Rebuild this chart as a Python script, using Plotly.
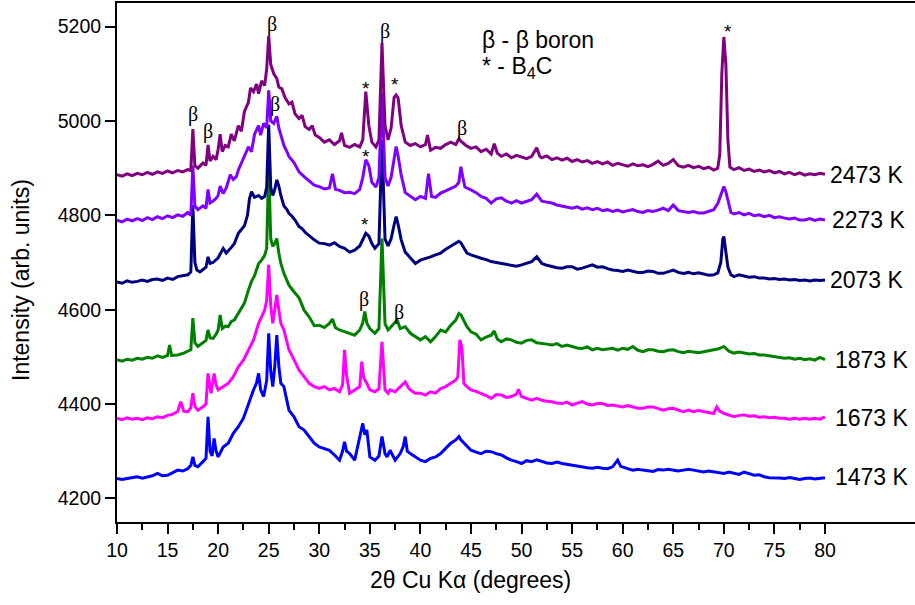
import plotly.graph_objects as go

# ---------------- data (2theta in degrees, intensity in arb. units) ----------------
pts_2473 = [(10,4886),(10.5,4883),(11,4888),(11.5,4884),(12,4889),(12.5,4886),(13,4891),(13.5,4887),(14,4892),(14.5,4889),(15,4894),(15.5,4890),(16,4895),(16.5,4892),(17,4897),(17.3,4895),(17.5,4983),(17.7,4905),(18,4900),(18.5,4911),(18.8,4906),(19,4949),(19.2,4915),(19.5,4925),(19.8,4918),(20,4940),(20.2,4972),(20.4,4935),(20.7,4948),(21,4945),(21.3,4972),(21.6,4958),(22,4990),(22.3,4978),(22.6,5020),(23,5040),(23.2,5070),(23.5,5062),(23.8,5078),(24,5058),(24.3,5085),(24.6,5075),(24.8,5110),(25,5180),(25.2,5120),(25.5,5100),(25.8,5090),(26,5072),(26.3,5068),(26.6,5050),(27,5036),(27.3,5040),(27.6,5015),(28,5005),(28.3,5012),(28.6,4988),(29,4982),(29.3,4990),(29.6,4970),(30,4965),(30.5,4955),(31,4960),(31.5,4950),(32,4958),(32.2,4975),(32.5,4948),(33,4944),(33.5,4950),(34,4945),(34.3,4960),(34.6,5062),(34.9,4990),(35.2,4955),(35.6,4945),(35.9,4960),(36.2,5165),(36.5,4990),(36.8,4960),(37.1,4985),(37.4,5050),(37.6,5055),(37.8,5048),(38.1,4990),(38.5,4955),(39,4948),(39.5,4952),(40,4945),(40.5,4950),(40.7,4970),(41,4938),(41.5,4944),(42,4942),(42.5,4950),(43,4955),(43.5,4950),(43.8,4962),(44,4957),(44.5,4948),(45,4942),(45.5,4945),(46,4935),(46.5,4940),(47,4930),(47.3,4952),(47.6,4932),(48,4925),(48.5,4930),(49,4922),(49.5,4927),(50,4924),(50.5,4920),(51,4925),(51.5,4943),(51.8,4925),(52,4922),(52.5,4926),(53,4918),(53.5,4922),(54,4917),(54.5,4921),(55,4914),(55.5,4918),(56,4913),(56.5,4916),(57,4910),(57.5,4914),(58,4909),(58.5,4913),(59,4906),(59.5,4910),(60,4907),(60.5,4904),(61,4909),(61.5,4905),(62,4907),(62.5,4903),(63,4908),(63.5,4915),(64,4906),(64.5,4910),(65,4918),(65.5,4905),(66,4902),(66.5,4906),(67,4901),(67.5,4904),(68,4899),(68.5,4902),(69,4896),(69.4,4900),(69.6,4930),(69.8,5100),(70,5178),(70.2,5120),(70.4,4960),(70.6,4902),(71,4897),(71.5,4901),(72,4895),(72.5,4898),(73,4893),(73.5,4896),(74,4892),(74.5,4895),(75,4890),(75.5,4893),(76,4888),(76.5,4891),(77,4886),(77.5,4890),(78,4885),(78.5,4888),(79,4886),(79.5,4889),(80,4887)]

pts_2273 = [(10,4790),(10.5,4786),(11,4792),(11.5,4788),(12,4793),(12.5,4789),(13,4795),(13.5,4791),(14,4797),(14.5,4793),(15,4799),(15.5,4795),(16,4801),(16.5,4798),(17,4806),(17.3,4800),(17.5,4905),(17.7,4820),(18,4812),(18.5,4820),(18.8,4815),(19,4855),(19.2,4826),(19.5,4830),(19.8,4836),(20,4842),(20.2,4862),(20.5,4846),(20.8,4858),(21,4870),(21.2,4886),(21.5,4876),(21.8,4882),(22,4896),(22.3,4910),(22.6,4925),(23,4945),(23.3,4935),(23.6,4972),(24,4990),(24.2,4970),(24.5,4995),(24.8,4985),(25,5065),(25.2,5000),(25.5,4995),(25.8,5010),(26,4985),(26.2,4972),(26.5,4948),(26.8,4935),(27,4925),(27.5,4912),(28,4892),(28.5,4882),(29,4872),(29.5,4864),(30,4861),(30.5,4856),(31,4858),(31.3,4888),(31.6,4855),(32,4853),(32.5,4848),(33,4849),(33.5,4846),(34,4855),(34.3,4880),(34.6,4918),(34.9,4905),(35.2,4870),(35.6,4860),(35.9,4880),(36.2,5060),(36.5,4880),(36.8,4862),(37.1,4880),(37.4,4920),(37.6,4946),(37.8,4925),(38.1,4885),(38.5,4848),(39,4840),(39.5,4833),(40,4840),(40.5,4836),(40.8,4888),(41.1,4840),(41.5,4838),(42,4847),(42.5,4852),(43,4857),(43.5,4862),(43.8,4870),(44,4903),(44.2,4880),(44.4,4860),(45,4854),(45.5,4848),(46,4840),(46.5,4836),(47,4826),(47.5,4835),(48,4837),(48.5,4830),(49,4826),(49.5,4831),(50,4826),(50.5,4830),(51,4833),(51.5,4845),(52,4830),(52.5,4828),(53,4826),(53.5,4822),(54,4820),(54.5,4818),(55,4815),(55.5,4818),(56,4813),(56.5,4816),(57,4812),(57.5,4815),(58,4810),(58.5,4812),(59,4808),(59.5,4811),(60,4807),(60.5,4810),(61,4812),(61.5,4808),(62,4806),(62.5,4810),(63,4808),(63.5,4811),(64,4815),(64.5,4810),(65,4822),(65.5,4810),(66,4808),(66.5,4806),(67,4808),(67.5,4805),(68,4805),(68.5,4808),(69,4812),(69.4,4825),(69.7,4845),(70,4861),(70.2,4850),(70.4,4830),(70.7,4806),(71,4803),(71.5,4806),(72,4801),(72.5,4804),(73,4799),(73.5,4801),(74,4797),(74.5,4800),(75,4795),(75.5,4797),(76,4794),(76.5,4792),(77,4794),(77.5,4790),(78,4790),(78.5,4793),(79,4789),(79.5,4792),(80,4790)]

pts_2073 = [(10,4659),(10.5,4656),(11,4661),(11.5,4658),(12,4660),(12.5,4663),(13,4660),(13.5,4664),(14,4665),(14.5,4662),(15,4667),(15.5,4664),(16,4670),(16.5,4672),(17,4674),(17.3,4680),(17.5,4822),(17.7,4700),(17.9,4684),(18.2,4680),(18.5,4686),(18.8,4690),(19,4712),(19.2,4698),(19.5,4700),(19.8,4706),(20,4710),(20.3,4722),(20.5,4730),(20.8,4720),(21,4724),(21.3,4732),(21.6,4740),(22,4762),(22.3,4770),(22.6,4778),(22.9,4800),(23.1,4835),(23.3,4850),(23.6,4838),(24,4842),(24.3,4836),(24.6,4840),(24.8,4860),(25,4992),(25.2,4860),(25.4,4842),(25.6,4855),(25.8,4875),(26,4862),(26.2,4842),(26.5,4820),(26.8,4812),(27,4804),(27.3,4798),(27.6,4790),(28,4776),(28.3,4772),(28.6,4764),(29,4756),(29.5,4748),(30,4741),(30.5,4740),(31,4737),(31.5,4742),(32,4734),(32.5,4730),(33,4722),(33.5,4726),(34,4735),(34.3,4750),(34.6,4762),(34.9,4756),(35.2,4740),(35.5,4730),(35.9,4740),(36.2,4960),(36.5,4750),(36.8,4735),(37.1,4750),(37.4,4780),(37.6,4797),(37.8,4780),(38.1,4748),(38.5,4722),(39,4710),(39.5,4698),(40,4705),(40.5,4708),(41,4712),(41.5,4716),(42,4720),(42.5,4728),(43,4734),(43.5,4740),(43.8,4745),(44,4742),(44.3,4730),(44.6,4720),(45,4716),(45.5,4712),(46,4709),(46.5,4706),(47,4702),(47.5,4700),(48,4698),(48.5,4696),(49,4695),(49.5,4692),(50,4695),(50.5,4698),(51,4702),(51.5,4712),(51.8,4702),(52,4698),(52.5,4694),(53,4691),(53.5,4689),(54,4688),(54.5,4691),(55,4691),(55.5,4686),(56,4688),(56.5,4692),(57,4695),(57.5,4690),(58,4691),(58.5,4687),(59,4684),(59.5,4683),(60,4681),(60.5,4684),(61,4681),(61.5,4679),(62,4679),(62.5,4682),(63,4681),(63.5,4677),(64,4677),(64.5,4680),(65,4684),(65.5,4679),(66,4677),(66.5,4679),(67,4676),(67.5,4678),(68,4676),(68.5,4673),(69,4674),(69.4,4678),(69.7,4700),(69.9,4750),(70,4755),(70.2,4720),(70.4,4690),(70.7,4674),(71,4670),(71.5,4674),(72,4672),(72.5,4669),(73,4670),(73.5,4667),(74,4667),(74.5,4665),(75,4666),(75.5,4664),(76,4665),(76.5,4663),(77,4664),(77.5,4662),(78,4663),(78.5,4661),(79,4663),(79.5,4662),(80,4663)]

pts_1873 = [(10,4494),(10.5,4491),(11,4495),(11.5,4493),(12,4497),(12.5,4495),(13,4499),(13.5,4497),(14,4502),(14.5,4499),(15,4503),(15.2,4525),(15.4,4503),(16,4504),(16.5,4507),(17,4511),(17.3,4515),(17.5,4582),(17.7,4530),(18,4522),(18.5,4529),(18.8,4535),(19,4557),(19.2,4540),(19.5,4539),(19.8,4548),(20,4557),(20.2,4589),(20.4,4560),(20.7,4565),(21,4564),(21.3,4575),(21.6,4578),(22,4592),(22.3,4605),(22.6,4614),(23,4642),(23.3,4660),(23.6,4672),(24,4698),(24.3,4705),(24.6,4715),(24.8,4730),(25,4905),(25.2,4750),(25.4,4734),(25.6,4740),(25.8,4751),(26,4720),(26.2,4698),(26.5,4677),(26.8,4660),(27,4652),(27.5,4638),(28,4625),(28.5,4599),(29,4585),(29.5,4566),(30,4567),(30.5,4562),(31,4571),(31.3,4580),(31.6,4562),(32,4557),(32.5,4553),(33,4550),(33.5,4546),(34,4557),(34.3,4572),(34.5,4596),(34.7,4572),(35,4560),(35.5,4550),(35.9,4560),(36.2,4751),(36.5,4570),(36.8,4557),(37.1,4564),(37.4,4570),(37.7,4578),(38,4560),(38.5,4564),(39,4550),(39.5,4543),(40,4536),(40.5,4543),(41,4532),(41.5,4543),(42,4557),(42.5,4553),(43,4567),(43.5,4578),(43.8,4592),(44,4589),(44.3,4575),(44.6,4564),(45,4553),(45.5,4548),(46,4536),(46.5,4542),(47,4546),(47.3,4555),(47.6,4538),(48,4532),(48.5,4538),(49,4536),(49.5,4531),(50,4529),(50.5,4535),(51,4536),(51.5,4530),(52,4529),(52.5,4527),(53,4525),(53.5,4528),(54,4522),(54.5,4525),(55,4522),(55.5,4519),(56,4518),(56.5,4521),(57,4515),(57.5,4518),(58,4515),(58.5,4517),(59,4518),(59.5,4514),(60,4518),(60.5,4516),(61,4522),(61.5,4514),(62,4511),(62.5,4515),(63,4515),(63.5,4512),(64,4511),(64.5,4514),(65,4515),(65.5,4511),(66,4509),(66.5,4512),(67,4511),(67.5,4509),(68,4511),(68.5,4513),(69,4515),(69.5,4517),(70,4522),(70.5,4512),(71,4508),(71.5,4510),(72,4508),(72.5,4506),(73,4507),(73.5,4504),(74,4504),(74.5,4502),(75,4501),(75.5,4499),(76,4497),(76.5,4498),(77,4495),(77.5,4497),(78,4494),(78.5,4496),(79,4493),(79.5,4499),(80,4494)]

pts_1673 = [(10,4370),(10.5,4367),(11,4371),(11.5,4368),(12,4370),(12.5,4367),(13,4371),(13.5,4369),(14,4373),(14.5,4371),(15,4376),(15.5,4378),(16,4384),(16.3,4405),(16.6,4385),(17,4384),(17.3,4392),(17.5,4423),(17.7,4395),(18,4387),(18.5,4394),(18.8,4400),(19,4465),(19.3,4423),(19.6,4465),(19.8,4440),(20,4430),(20.5,4437),(21,4444),(21.5,4458),(22,4479),(22.5,4493),(23,4515),(23.5,4536),(24,4571),(24.3,4585),(24.6,4599),(24.8,4620),(25,4695),(25.2,4610),(25.4,4571),(25.6,4600),(25.8,4631),(26,4600),(26.2,4571),(26.5,4557),(26.8,4535),(27,4515),(27.5,4494),(28,4472),(28.5,4458),(29,4444),(29.5,4437),(30,4433),(30.5,4437),(31,4430),(31.5,4433),(32,4426),(32.3,4440),(32.5,4515),(32.7,4460),(33,4423),(33.5,4430),(34,4437),(34.2,4490),(34.4,4455),(34.7,4444),(35,4430),(35.5,4426),(35.9,4432),(36.2,4532),(36.5,4430),(36.8,4423),(37,4430),(37.5,4426),(38,4437),(38.5,4447),(38.8,4435),(39,4430),(39.5,4423),(40,4423),(40.5,4419),(41,4426),(41.5,4423),(42,4433),(42.5,4437),(43,4444),(43.5,4451),(43.7,4458),(43.9,4536),(44.1,4520),(44.3,4444),(44.6,4437),(45,4430),(45.5,4427),(46,4423),(46.5,4418),(47,4412),(47.5,4420),(48,4419),(48.5,4414),(49,4416),(49.5,4421),(49.7,4431),(50,4416),(50.5,4412),(51,4408),(51.5,4412),(52,4408),(52.5,4406),(53,4405),(53.5,4402),(54,4401),(54.5,4404),(55,4398),(55.5,4402),(56,4405),(56.5,4400),(57,4398),(57.5,4401),(58,4401),(58.5,4397),(59,4398),(59.5,4396),(60,4394),(60.5,4397),(61,4394),(61.5,4391),(62,4391),(62.5,4394),(63,4394),(63.5,4390),(64,4387),(64.5,4390),(65,4391),(65.5,4387),(66,4384),(66.5,4387),(67,4384),(67.5,4386),(68,4384),(68.5,4382),(69,4380),(69.3,4394),(69.6,4385),(70,4380),(70.5,4376),(71,4373),(71.5,4376),(72,4377),(72.5,4374),(73,4375),(73.5,4372),(74,4373),(74.5,4371),(75,4372),(75.5,4370),(76,4370),(76.5,4368),(77,4370),(77.5,4368),(78,4370),(78.5,4368),(79,4370),(79.5,4368),(80,4373)]

pts_1473 = [(10,4242),(10.5,4240),(11,4242),(11.5,4244),(12,4246),(12.5,4243),(13,4246),(13.5,4248),(14,4253),(14.5,4248),(15,4249),(15.5,4254),(16,4260),(16.5,4258),(17,4263),(17.3,4270),(17.5,4288),(17.7,4270),(18,4267),(18.5,4278),(18.8,4285),(19,4373),(19.2,4300),(19.4,4290),(19.6,4327),(19.8,4300),(20,4288),(20.5,4309),(21,4317),(21.5,4338),(22,4352),(22.5,4370),(23,4401),(23.5,4430),(23.8,4445),(24,4465),(24.2,4430),(24.5,4416),(24.8,4450),(25,4550),(25.2,4470),(25.4,4437),(25.6,4480),(25.8,4546),(26,4480),(26.2,4444),(26.5,4437),(26.8,4410),(27,4387),(27.5,4373),(28,4352),(28.5,4345),(29,4331),(29.5,4317),(30,4309),(30.5,4306),(31,4302),(31.5,4292),(32,4281),(32.3,4300),(32.5,4320),(32.7,4300),(33,4295),(33.5,4281),(34,4331),(34.3,4359),(34.5,4335),(34.7,4345),(35,4288),(35.5,4281),(35.9,4290),(36.2,4331),(36.5,4295),(36.7,4288),(37,4302),(37.5,4281),(38,4295),(38.3,4310),(38.5,4331),(38.7,4300),(39,4295),(39.5,4288),(40,4281),(40.5,4278),(41,4285),(41.5,4288),(42,4295),(42.5,4306),(43,4317),(43.5,4324),(43.8,4331),(44,4324),(44.5,4313),(45,4302),(45.5,4298),(46,4295),(46.5,4300),(47,4299),(47.5,4295),(48,4292),(48.5,4286),(49,4281),(49.5,4278),(50,4274),(50.5,4280),(51,4278),(51.5,4282),(52,4278),(52.5,4275),(53,4274),(53.5,4277),(54,4274),(54.5,4272),(55,4271),(55.5,4269),(56,4267),(56.5,4265),(57,4264),(57.5,4266),(58,4264),(58.5,4263),(59,4267),(59.5,4281),(59.8,4268),(60,4267),(60.5,4263),(61,4260),(61.5,4262),(62,4260),(62.5,4258),(63,4257),(63.5,4261),(64,4260),(64.5,4262),(65,4260),(65.5,4258),(66,4260),(66.5,4262),(67,4260),(67.5,4258),(68,4256),(68.5,4258),(69,4256),(69.5,4254),(70,4253),(70.5,4256),(71,4253),(71.5,4251),(72,4256),(72.5,4252),(73,4249),(73.5,4250),(74,4246),(74.5,4244),(75,4244),(75.5,4243),(76,4242),(76.5,4244),(77,4242),(77.5,4240),(78,4242),(78.5,4243),(79,4241),(79.5,4243),(80,4244)]

series_names = ["1473 K", "1673 K", "1873 K", "2073 K", "2273 K", "2473 K"]
series_pts = [pts_1473, pts_1673, pts_1873, pts_2073, pts_2273, pts_2473]
series_colors = ["#0000FF", "#FF00FF", "#008000", "#000080", "#8000FF", "#800080"]

x_ticks = [10, 15, 20, 25, 30, 35, 40, 45, 50, 55, 60, 65, 70, 75, 80]
x_minor = [12.5, 17.5, 22.5, 27.5, 32.5, 37.5, 42.5, 47.5, 52.5, 57.5, 62.5, 67.5, 72.5, 77.5]
y_ticks = [4200, 4400, 4600, 4800, 5000, 5200]

# peak markers: (2theta, intensity, symbol)
peak_marks = [(17.5, 5013, "β"), (19.0, 4977, "β"), (25.33, 5204, "β"), (25.62, 5034, "β"),
              (36.5, 5189, "β"), (44.1, 4985, "β"), (34.42, 4621, "β"), (37.88, 4595, "β"),
              (34.62, 5068, "*"), (37.49, 5077, "*"), (34.62, 4924, "*"), (34.52, 4780, "*"),
              (70.4, 5189, "*")]

# end-of-trace labels (paper coordinates)
end_label_y = {"2473 K": 0.6686, "2273 K": 0.5819, "2073 K": 0.4663,
               "1873 K": 0.3121, "1673 K": 0.2004, "1473 K": 0.0867}
end_label_x = {"2473 K": 0.891, "2273 K": 0.8935, "2073 K": 0.891,
               "1873 K": 0.8972, "1673 K": 0.8972, "1473 K": 0.8972}

SANS = "Liberation Sans, Arial, sans-serif"
SERIF = "Liberation Serif, Times New Roman, serif"

fig = go.Figure()
for name, pts, col in zip(series_names, series_pts, series_colors):
    fig.add_trace(go.Scatter(
        x=[p[0] for p in pts], y=[p[1] for p in pts], mode="lines", name=name,
        line=dict(color=col, width=3), hoverinfo="skip", showlegend=False))

annotations = []
for xv, yv, sym in peak_marks:
    if sym == "β":
        annotations.append(dict(x=xv, y=yv, xref="x", yref="y", text="β", showarrow=False,
                                font=dict(family=SERIF, size=20, color="black"),
                                xanchor="center", yanchor="middle"))
    else:
        annotations.append(dict(x=xv, y=yv, xref="x", yref="y", text="*", showarrow=False,
                                font=dict(family=SANS, size=19, color="black"),
                                xanchor="center", yanchor="middle"))

for name in series_names:
    annotations.append(dict(x=end_label_x[name], y=end_label_y[name], xref="paper", yref="paper",
                            text=name, showarrow=False, xanchor="left", yanchor="middle",
                            font=dict(family=SANS, size=23, color="black")))

annotations.append(dict(x=0.4549, y=0.9287, xref="paper", yref="paper",
                        text="β - β boron", showarrow=False,
                        xanchor="left", yanchor="middle",
                        font=dict(family=SANS, size=23, color="black")))
annotations.append(dict(x=0.4549, y=0.8748, xref="paper", yref="paper",
                        text="* - B<sub>4</sub>C", showarrow=False,
                        xanchor="left", yanchor="middle",
                        font=dict(family=SANS, size=23, color="black")))

# axis titles
annotations.append(dict(x=0.4436, y=-0.1118, xref="paper", yref="paper",
                        text="2θ Cu Kα (degrees)",
                        showarrow=False, xanchor="center", yanchor="middle",
                        font=dict(family=SANS, size=23, color="black")))
annotations.append(dict(x=-0.1203, y=0.4663, xref="paper", yref="paper",
                        text="Intensity (arb. units)", textangle=-90,
                        showarrow=False, xanchor="center", yanchor="middle",
                        font=dict(family=SANS, size=23, color="black")))

fig.update_layout(
    width=915, height=605,
    margin=dict(l=117, r=0, t=3, b=83),
    paper_bgcolor="white", plot_bgcolor="white",
    annotations=annotations,
    xaxis=dict(range=[10, 88.9], tickmode="array", tickvals=x_ticks,
               ticktext=[str(v) for v in x_ticks],
               showgrid=False, zeroline=False, showline=True, linecolor="black", linewidth=2,
               mirror=True, ticks="outside", ticklen=10, tickwidth=2, tickcolor="black",
               minor=dict(tickmode="array", tickvals=x_minor, ticks="outside", ticklen=6,
                          tickwidth=2, tickcolor="black", showgrid=False),
               tickfont=dict(family=SANS, size=19.5, color="black")),
    yaxis=dict(range=[4150, 5250], tickmode="array", tickvals=y_ticks,
               showgrid=False, zeroline=False, showline=True, linecolor="black", linewidth=2,
               ticks="outside", ticklen=10, tickwidth=2, tickcolor="black",
               tickfont=dict(family=SANS, size=19.5, color="black")),
)

fig.write_html("out.html")
